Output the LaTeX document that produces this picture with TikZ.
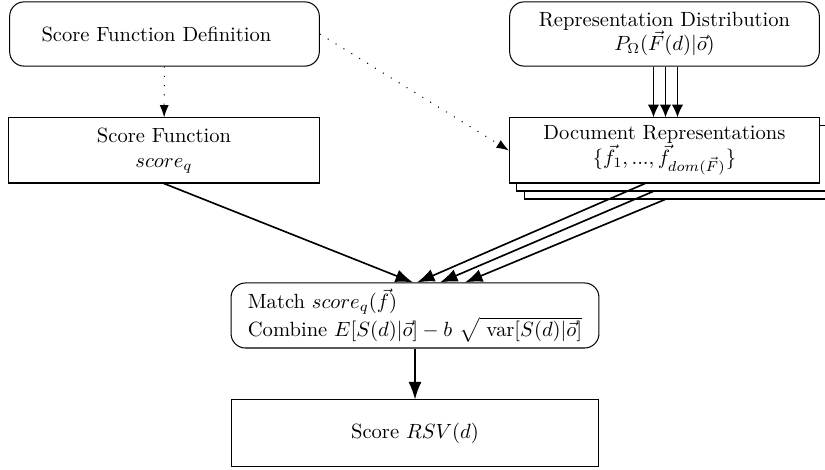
\documentclass[tikz,border=0pt]{standalone}
\usetikzlibrary{arrows.meta}
\begin{document}
\begin{tikzpicture}[x=0.486pt,y=-0.486pt,
  rbox/.style={draw, line width=0.5pt, rounded corners=7pt, minimum width=150.5pt, minimum height=31.2pt, align=center, inner sep=0pt},
  sbox/.style={draw, line width=0.5pt, fill=white, minimum width=150.7pt, minimum height=31.6pt, align=center, inner sep=0pt},
  sarrow/.style={thick, -{Latex[length=8.5pt,width=6.3pt]}},
  tarrow/.style={thick, -{Latex[length=6.3pt,width=5.6pt]}},
  darrow/.style={loosely dotted, line width=0.5pt, -{Latex[length=6pt,width=4.4pt]}}]
\useasboundingbox (0,0) rectangle (825,470);
\node[rbox] (sfd) at (164.5,34) {Score Function Definition\hspace*{7.8pt}};
\node[rbox] (rd) at (664.5,34) {Representation Distribution\\$P_\Omega(\vec{F}(d)|\vec{o})$};
\node[sbox] (sf) at (164,150.5) {Score Function\\$score_q$};
\node[sbox] (dr2) at (680,166.5) {};
\node[sbox] (dr1) at (672,158.5) {};
\node[sbox] (dr) at (664.5,150.5) {Document Representations\\$\{\vec{f}_1, ..., \vec{f}_{dom(\vec{F})}\}$};
\node[rbox, minimum width=178.8pt, minimum height=31.6pt, align=left] (match) at (415,315.5)
  {Match $score_q(\vec{f})$\\Combine $E[S(d)|\vec{o}]-b\ \sqrt{\ \mathrm{var}[S(d)|\vec{o}]}$};
\node[sbox, minimum width=178.8pt, minimum height=32.1pt] (score) at (415,433) {Score $RSV(d)$};
\draw[darrow] (sfd) -- (sf);
\draw[darrow] (sfd.east) -- (dr.west);
\draw[tarrow] ([shift={(-11,0)}]rd.south) -- ([shift={(-11,0)}]dr.north);
\draw[tarrow] ([shift={(1,0)}]rd.south) -- ([shift={(1,0)}]dr.north);
\draw[tarrow] ([shift={(13,0)}]rd.south) -- ([shift={(13,0)}]dr.north);
\draw[sarrow] (sf.south) -- ([shift={(-2,0)}]match.north);
\draw[sarrow] ([shift={(-19.5,0)}]dr.south) -- ([shift={(2,0)}]match.north);
\draw[sarrow] ([shift={(-19,0)}]dr1.south) -- ([shift={(25,0)}]match.north);
\draw[sarrow] ([shift={(-15,0)}]dr2.south) -- ([shift={(50,0)}]match.north);
\draw[sarrow] (match) -- (score);
\end{tikzpicture}
\end{document}
